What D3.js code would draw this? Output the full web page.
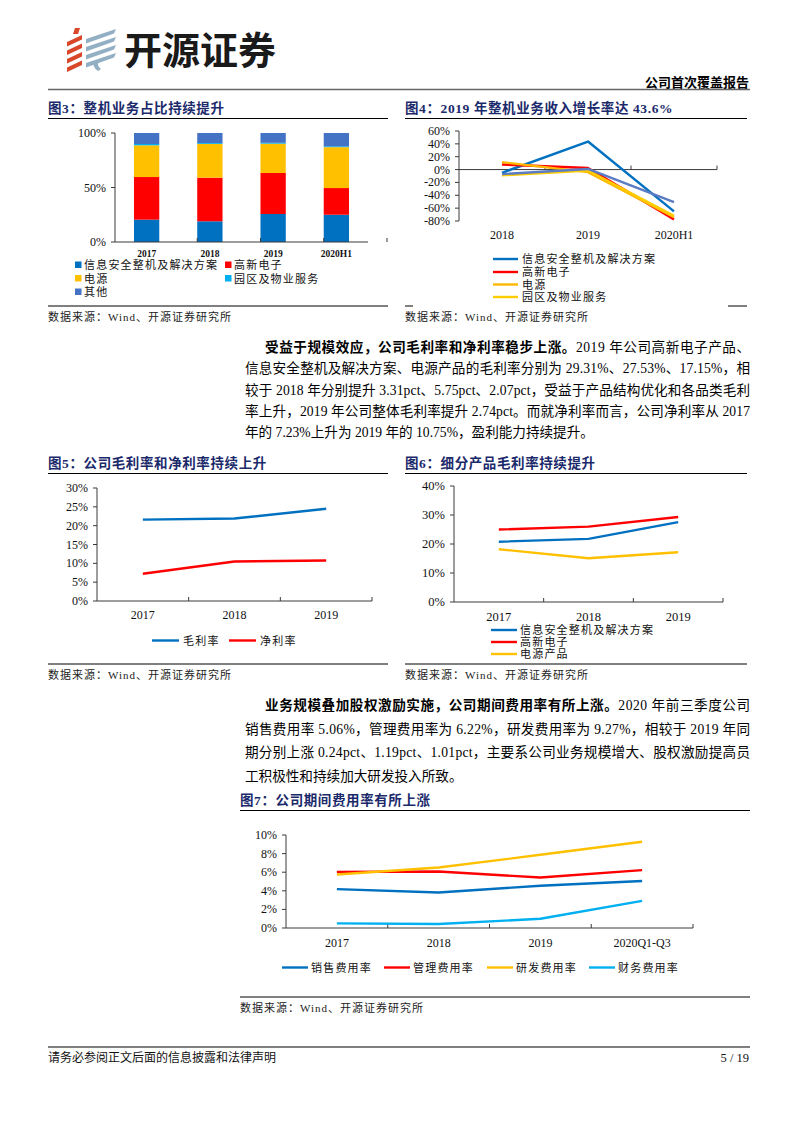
<!DOCTYPE html>
<html><head><meta charset="utf-8">
<script src="https://cdn.jsdelivr.net/npm/d3@7"></script>
<style>
body{margin:0;background:#fff}
svg{display:block}
text{font-family:"Liberation Serif","Noto Sans CJK SC",serif}
</style></head>
<body><svg id="page" width="793" height="1122"></svg>
<script>
// ---------------- DATA ----------------
const fig3Years = ["2017", "2018", "2019", "2020H1"];
const fig3Names = ["信息安全整机及解决方案", "高新电子", "电源", "园区及物业服务", "其他"];
const fig3Info = [20.5, 19.0, 25.7, 25.0];
const fig3Hitech = [39.1, 40.0, 37.6, 24.5];
const fig3Power = [29.1, 31.0, 26.9, 37.5];
const fig3Park = [1.2, 0.8, 0.8, 0.8];
const fig3Other = [10.1, 9.2, 9.0, 12.2];
const fig3Ticks = [0, 50, 100];

const fig4Years = ["2018", "2019", "2020H1"];
const fig4Names = ["信息安全整机及解决方案", "高新电子", "电源", "园区及物业服务", "其他"];
const fig4Info = [-5, 43.6, -65];
const fig4Hitech = [8, 2.5, -77.5];
const fig4Power = [11.5, -4, -74];
const fig4Park = [-9, -1.5, -72];
const fig4Other = [-7, 1, -50.5];
const fig4Ticks = [60, 40, 20, 0, -20, -40, -60, -80];

const fig5Years = ["2017", "2018", "2019"];
const fig5Names = ["毛利率", "净利率"];
const fig5Gross = [21.6, 21.9, 24.5];
const fig5Net = [7.23, 10.5, 10.75];
const fig5Ticks = [0, 5, 10, 15, 20, 25, 30];

const fig6Years = ["2017", "2018", "2019"];
const fig6Names = ["信息安全整机及解决方案", "高新电子", "电源产品"];
const fig6Info = [20.8, 21.78, 27.53];
const fig6Hitech = [25.0, 26.0, 29.31];
const fig6Power = [18.2, 15.08, 17.15];
const fig6Ticks = [0, 10, 20, 30, 40];

const fig7Years = ["2017", "2018", "2019", "2020Q1-Q3"];
const fig7Names = ["销售费用率", "管理费用率", "研发费用率", "财务费用率"];
const fig7Sales = [4.18, 3.82, 4.54, 5.06];
const fig7Admin = [6.04, 6.07, 5.43, 6.22];
const fig7RnD = [5.75, 6.5, 7.87, 9.27];
const fig7Fin = [0.5, 0.43, 0.99, 2.91];
const fig7Ticks = [0, 2, 4, 6, 8, 10];

// ---------------- STYLE ----------------
const NAVY = "#1B2A6B";
const AX = "#3a3a3a";
const C_BLUE = "#0070C0", C_RED = "#FF0000", C_YEL = "#FFC000", C_CYAN = "#00B0F0", C_DBLUE = "#4472C4", C_GBLUE = "#5B7CC2";

const svg = d3.select("#page");

// ---------------- HEADER ----------------
const logo = svg.append("g");
logo.append("path").attr("d", "M75,28 L80,28 L78,34 L73,34 Z").attr("fill", "#D9472B");
for (let i = 0; i < 4; i++) {
  const y = 35 + i * 8.5;
  logo.append("path").attr("d", `M67,${y + 7} L82,${y} L82,${y + 4.5} L67,${y + 11.5} Z`).attr("fill", "#D9472B");
}
for (let i = 0; i < 4; i++) {
  const y = 29 + i * 8;
  logo.append("path").attr("d", `M86,${y + 10} L116,${y} L114,${y + 4.5} L86,${y + 14.5} Z`).attr("fill", "#93AFC4");
}
logo.append("path").attr("d", "M95,61 Q91,66 98,71 L101,69 Q96,65 99,62 Z").attr("fill", "#93AFC4");
svg.append("text").attr("x", 124).attr("y", 64).text("开源证券")
  .style("font-family", '"Noto Sans CJK SC"').style("font-weight", 700).style("font-size", "38px").attr("fill", "#1a1a1a");
svg.append("text").attr("x", 749).attr("y", 87).attr("text-anchor", "end").text("公司首次覆盖报告")
  .style("font-weight", 700).style("font-size", "13px").attr("fill", "#000");
svg.append("line").attr("x1", 48).attr("x2", 750).attr("y1", 89.5).attr("y2", 89.5).attr("stroke", "#666").attr("stroke-width", 1.6);

// ---------------- helpers ----------------
function rule(x1, x2, y, w) {
  svg.append("line").attr("x1", x1).attr("x2", x2).attr("y1", y).attr("y2", y).attr("stroke", "#000").attr("stroke-width", w || 1);
}
function title(x, y, str, x2) {
  svg.append("text").attr("x", x).attr("y", y + 5).text(str)
    .style("font-weight", 700).style("font-size", "13.5px").style("letter-spacing", "0.6px").attr("fill", NAVY);
  rule(x, x2, y + 10.5, 1);
}
function source(x, y, x2, ruleY) {
  rule(x, x2, ruleY, 1);
  svg.append("text").attr("x", x).attr("y", y + 4).text("数据来源：Wind、开源证券研究所")
    .style("font-size", "11px").style("letter-spacing", "1px").attr("fill", "#222");
}
function legendText(g, x, y, str) {
  g.append("text").attr("x", x).attr("y", y + 4).text(str)
    .style("font-size", "11px").style("letter-spacing", "1.2px").attr("fill", "#111");
}
function yAxis(g, y, x0, ticks, fmt, fs) {
  g.append("line").attr("x1", x0).attr("x2", x0).attr("y1", y.range()[0]).attr("y2", y.range()[1]).attr("stroke", AX);
  ticks.forEach(t => {
    g.append("line").attr("x1", x0 - 4).attr("x2", x0).attr("y1", y(t)).attr("y2", y(t)).attr("stroke", AX);
    g.append("text").attr("x", x0 - 9).attr("y", y(t) + 4).attr("text-anchor", "end").text(fmt(t))
      .style("font-size", (fs || 12) + "px").attr("fill", "#111");
  });
}
function xAxis(g, x, yPos, labelY, fs, bold) {
  const r = x.range();
  g.append("line").attr("x1", r[0]).attr("x2", r[1]).attr("y1", yPos).attr("y2", yPos).attr("stroke", AX);
  x.domain().forEach(d => {
    const xe = x(d) + x.step();
    g.append("line").attr("x1", xe).attr("x2", xe).attr("y1", yPos - 4).attr("y2", yPos).attr("stroke", AX);
    g.append("text").attr("x", x(d) + x.bandwidth() / 2).attr("y", labelY + 4).attr("text-anchor", "middle").text(d)
      .style("font-size", fs + "px").style("font-weight", bold ? 700 : 400).attr("fill", "#111");
  });
}
function drawLine(g, x, y, cats, vals, color, w) {
  const gen = d3.line().x((d, i) => x(cats[i]) + x.bandwidth() / 2).y(d => y(d));
  g.append("path").datum(vals).attr("d", gen).attr("fill", "none").attr("stroke", color)
    .attr("stroke-width", w || 2.4).attr("stroke-linejoin", "round");
}
const pct = t => t + "%";

// ---------------- FIG 3 ----------------
title(48, 108, "图3：整机业务占比持续提升", 388);
{
  const g = svg.append("g");
  const x = d3.scaleBand().domain(fig3Years).range([115, 368]).paddingInner(0.6).paddingOuter(0.3);
  const y = d3.scaleLinear().domain([0, 100]).range([242, 133]);
  const series = [fig3Info, fig3Hitech, fig3Power, fig3Park, fig3Other];
  const colors = [C_BLUE, C_RED, C_YEL, C_CYAN, C_DBLUE];
  const rows = fig3Years.map((yr, i) => { const o = { yr }; fig3Names.forEach((n, k) => o[n] = series[k][i]); return o; });
  const stack = d3.stack().keys(fig3Names)(rows);
  stack.forEach((s, k) => {
    g.selectAll(null).data(s).enter().append("rect")
      .attr("x", d => x(d.data.yr)).attr("width", x.bandwidth())
      .attr("y", d => y(d[1])).attr("height", d => y(d[0]) - y(d[1])).attr("fill", colors[k]);
  });
  yAxis(g, y, 115, fig3Ticks, pct, 12);
  xAxis(g, x, 242, 253, 9.5, true);
  const leg = [[75, 265], [225, 265], [75, 278.5], [225, 278.5], [75, 292]];
  fig3Names.forEach((n, k) => {
    g.append("rect").attr("x", leg[k][0]).attr("y", leg[k][1] - 3.5).attr("width", 6.5).attr("height", 6.5).attr("fill", colors[k]);
    legendText(g, leg[k][0] + 9, leg[k][1], n);
  });
}
source(48, 317, 388, 306);

// ---------------- FIG 4 ----------------
title(405, 108, "图4：2019 年整机业务收入增长率达 43.6%", 747);
source(405, 317, 747, 306);
{
  const g = svg.append("g");
  const x = d3.scaleBand().domain(fig4Years).range([459, 717]);
  const y = d3.scaleLinear().domain([-80, 60]).range([221, 131]);
  yAxis(g, y, 459, fig4Ticks, pct, 12);
  xAxis(g, x, y(0), 235, 12, false);
  const series = [fig4Info, fig4Hitech, fig4Power, fig4Park, fig4Other];
  const colors = [C_BLUE, C_RED, "#FFB800", "#FFCC00", C_GBLUE];
  series.forEach((s, k) => drawLine(g, x, y, fig4Years, s, colors[k], 2.4));
  g.append("rect").attr("x", 413).attr("y", 250).attr("width", 315).attr("height", 58).attr("fill", "#fff");
  const rowsY = [259, 272, 284.5, 297];
  fig4Names.slice(0, 4).forEach((n, k) => {
    g.append("line").attr("x1", 493).attr("x2", 518).attr("y1", rowsY[k]).attr("y2", rowsY[k]).attr("stroke", colors[k]).attr("stroke-width", 2.4);
    legendText(g, 522, rowsY[k], n);
  });
}

// ---------------- PARAGRAPHS ----------------
function para(lines, y0, dy) {
  lines.forEach((segs, i) => {
    const first = i === 0, last = i === lines.length - 1;
    const x0 = first ? 265 : 245;
    const t = svg.append("text").attr("x", x0).attr("y", y0 + i * dy + 5).style("font-size", "13.6px").attr("fill", "#000");
    if (!last) t.attr("textLength", 750 - x0).attr("lengthAdjust", "spacing");
    segs.forEach(s => t.append("tspan").text(s[0]).style("font-weight", s[1] ? 700 : 400));
  });
}
para([
  [["受益于规模效应，公司毛利率和净利率稳步上涨。", 1], ["2019 年公司高新电子产品、", 0]],
  [["信息安全整机及解决方案、电源产品的毛利率分别为 29.31%、27.53%、17.15%，相", 0]],
  [["较于 2018 年分别提升 3.31pct、5.75pct、2.07pct，受益于产品结构优化和各品类毛利", 0]],
  [["率上升，2019 年公司整体毛利率提升 2.74pct。而就净利率而言，公司净利率从 2017", 0]],
  [["年的 7.23%上升为 2019 年的 10.75%，盈利能力持续提升。", 0]]
], 347, 21.3);

// ---------------- FIG 5 ----------------
title(48, 463, "图5：公司毛利率和净利率持续上升", 388);
{
  const g = svg.append("g");
  const x = d3.scaleBand().domain(fig5Years).range([97, 372]);
  const y = d3.scaleLinear().domain([0, 30]).range([601, 488]);
  yAxis(g, y, 97, fig5Ticks, pct, 12);
  xAxis(g, x, 601, 615, 12, false);
  const series = [fig5Gross, fig5Net], colors = [C_BLUE, C_RED];
  series.forEach((s, k) => drawLine(g, x, y, fig5Years, s, colors[k], 2.4));
  const lx = [152, 229];
  fig5Names.forEach((n, k) => {
    g.append("line").attr("x1", lx[k]).attr("x2", lx[k] + 27).attr("y1", 640.5).attr("y2", 640.5).attr("stroke", colors[k]).attr("stroke-width", 2.4);
    legendText(g, lx[k] + 31, 640.5, n);
  });
}
source(48, 675, 388, 664);

// ---------------- FIG 6 ----------------
title(405, 463, "图6：细分产品毛利率持续提升", 747);
{
  const g = svg.append("g");
  const x = d3.scaleBand().domain(fig6Years).range([454, 723]);
  const y = d3.scaleLinear().domain([0, 40]).range([602, 486]);
  yAxis(g, y, 454, fig6Ticks, pct, 12.5);
  xAxis(g, x, 602, 617, 12.5, false);
  const series = [fig6Info, fig6Hitech, fig6Power], colors = [C_BLUE, C_RED, C_YEL];
  series.forEach((s, k) => drawLine(g, x, y, fig6Years, s, colors[k], 2.4));
  const rowsY = [630, 642, 654];
  fig6Names.forEach((n, k) => {
    g.append("line").attr("x1", 491).attr("x2", 517).attr("y1", rowsY[k]).attr("y2", rowsY[k]).attr("stroke", colors[k]).attr("stroke-width", 2.4);
    legendText(g, 520, rowsY[k], n);
  });
}
source(405, 675, 747, 664);

para([
  [["业务规模叠加股权激励实施，公司期间费用率有所上涨。", 1], ["2020 年前三季度公司", 0]],
  [["销售费用率 5.06%，管理费用率为 6.22%，研发费用率为 9.27%，相较于 2019 年同", 0]],
  [["期分别上涨 0.24pct、1.19pct、1.01pct，主要系公司业务规模增大、股权激励提高员", 0]],
  [["工积极性和持续加大研发投入所致。", 0]]
], 705, 23.5);

// ---------------- FIG 7 ----------------
title(240, 800, "图7：公司期间费用率有所上涨", 750);
{
  const g = svg.append("g");
  const x = d3.scaleBand().domain(fig7Years).range([286, 693]);
  const y = d3.scaleLinear().domain([0, 10]).range([928, 835]);
  yAxis(g, y, 286, fig7Ticks, pct, 12);
  xAxis(g, x, 928, 943, 12, false);
  const series = [fig7Sales, fig7Admin, fig7RnD, fig7Fin], colors = [C_BLUE, C_RED, C_YEL, C_CYAN];
  series.forEach((s, k) => drawLine(g, x, y, fig7Years, s, colors[k], 2.4));
  const lx = [282, 384, 487, 589];
  fig7Names.forEach((n, k) => {
    g.append("line").attr("x1", lx[k]).attr("x2", lx[k] + 26).attr("y1", 967.5).attr("y2", 967.5).attr("stroke", colors[k]).attr("stroke-width", 2.4);
    legendText(g, lx[k] + 29, 967.5, n);
  });
}
source(240, 1008, 750, 997);

// ---------------- FOOTER ----------------
rule(48, 750, 1047, 1.2);
svg.append("text").attr("x", 48).attr("y", 1062).text("请务必参阅正文后面的信息披露和法律声明").style("font-size", "12px").attr("fill", "#111");
svg.append("text").attr("x", 749).attr("y", 1062).attr("text-anchor", "end").text("5 / 19").style("font-size", "12.5px").attr("fill", "#111");
</script></body></html>
